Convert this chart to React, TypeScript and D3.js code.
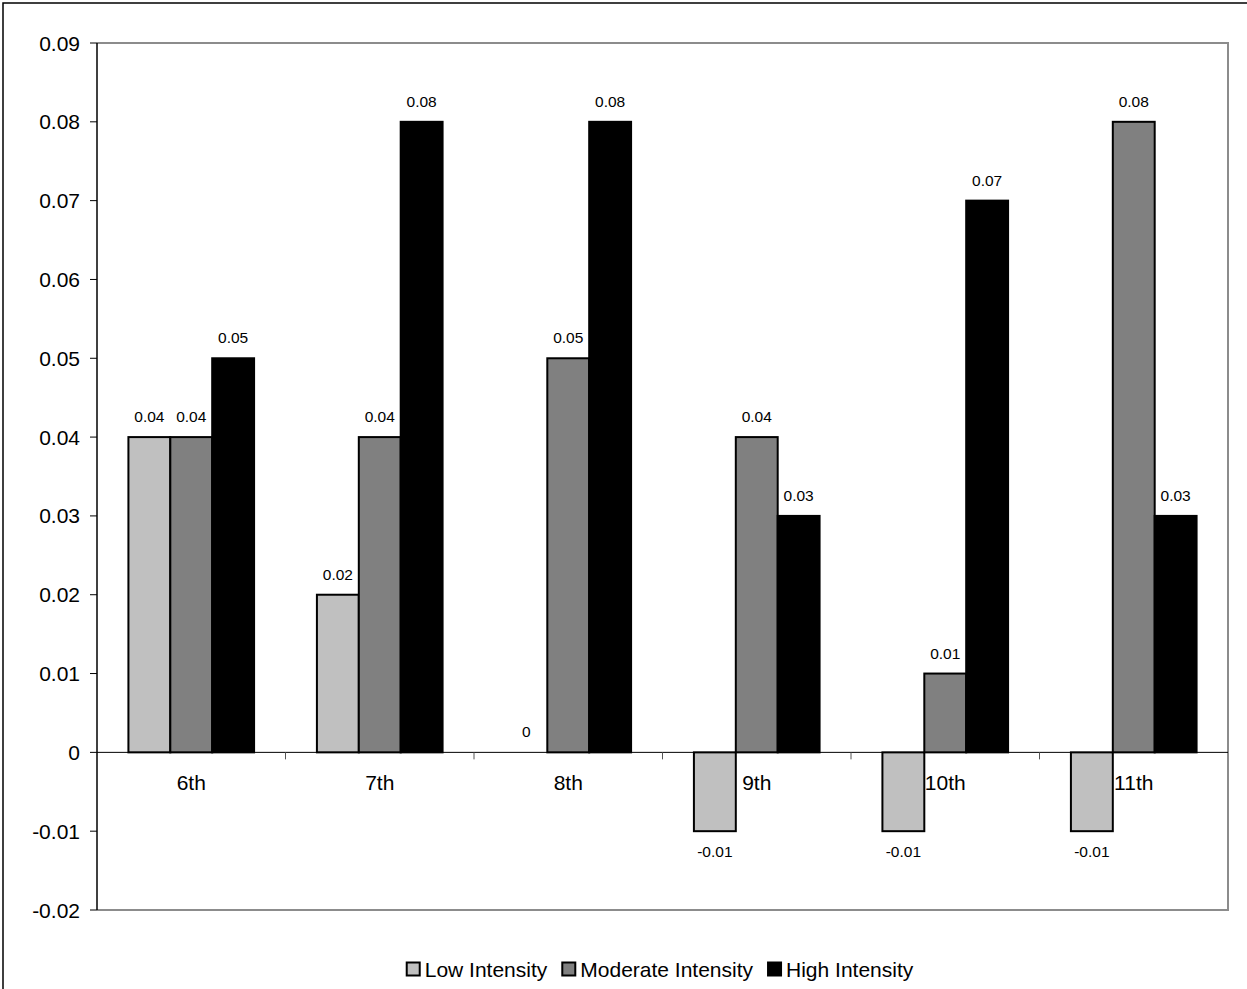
import React from "react";
import * as d3 from "d3";

const categories = ["6th", "7th", "8th", "9th", "10th", "11th"];
const seriesNames = ["Low Intensity", "Moderate Intensity", "High Intensity"];
const lowValues = [0.04, 0.02, 0, -0.01, -0.01, -0.01];
const moderateValues = [0.04, 0.04, 0.05, 0.04, 0.01, 0.08];
const highValues = [0.05, 0.08, 0.08, 0.03, 0.07, 0.03];
const yTicks = [0.09, 0.08, 0.07, 0.06, 0.05, 0.04, 0.03, 0.02, 0.01, 0, -0.01, -0.02];
const colors = ["#C0C0C0", "#808080", "#000000"];

const W = 1247;
const H = 989;
const plot = { left: 97, top: 43, right: 1228, bottom: 910 };
const FONT = "'Liberation Sans', Arial, sans-serif";

function measure(text: string, size: number): number {
  if (typeof document === "undefined") return text.length * size * 0.5;
  const c = document.createElement("canvas").getContext("2d");
  if (!c) return text.length * size * 0.5;
  c.font = `${size}px 'Liberation Sans', Arial, sans-serif`;
  return c.measureText(text).width;
}

export default function App() {
  const series = [lowValues, moderateValues, highValues];
  const y = d3.scaleLinear().domain([-0.02, 0.09]).range([plot.bottom, plot.top]);
  const x0 = d3.scaleBand<string>().domain(categories).range([plot.left, plot.right]).paddingInner(0).paddingOuter(0);
  const groupW = x0.bandwidth();
  const barW = groupW / 4.5;
  const x1 = d3.scaleBand<number>().domain([0, 1, 2]).range([groupW * 0.75 / 4.5, groupW * 0.75 / 4.5 + 3 * barW]);
  const fmt = (v: number) => (v === 0 ? "0" : d3.format(".2f")(v).replace("\u2212", "-"));
  const y0 = y(0);

  // legend layout
  const legendSize = 21;
  const sq = 13;
  const sqGap = 5;
  const itemGap = 15;
  const items = seriesNames.map((n) => ({ n, w: sq + sqGap + measure(n, legendSize) }));
  const totalW = d3.sum(items, (d) => d.w) + itemGap * (items.length - 1);
  let lx = 660 - totalW / 2;
  const legendY = 969;
  const legendItems = items.map((it, i) => {
    const pos = lx;
    lx += it.w + itemGap;
    return { ...it, x: pos, i };
  });

  return (
    <svg width={W} height={H} style={{ display: "block", position: "absolute", left: 0, top: 0 }} fontFamily={FONT}>
      <rect x={0} y={0} width={W} height={H} fill="#fff" />
      <rect x={3} y={3} width={W + 20} height={H + 20} fill="none" stroke="#000" strokeWidth={1.5} />
      {/* plot frame */}
      <path
        d={`M${plot.left},${plot.top}H${plot.right}V${plot.bottom}H${plot.left}`}
        fill="none"
        stroke="#8c8c8c"
        strokeWidth={2}
      />
      {/* bars */}
      {categories.map((c, ci) =>
        series.map((vals, si) => {
          const v = vals[ci];
          if (v === 0) return null;
          const bx = (x0(c) as number) + (x1(si) as number);
          const top = Math.min(y(v), y0);
          const h = Math.abs(y(v) - y0);
          return (
            <rect key={`${c}-${si}`} x={bx} y={top} width={barW} height={h} fill={colors[si]} stroke="#000" strokeWidth={2} />
          );
        })
      )}
      {/* zero line */}
      <line x1={plot.left} x2={plot.right} y1={y0} y2={y0} stroke="#000" strokeWidth={1} />
      {/* category ticks */}
      {categories.slice(1).map((c) => (
        <line key={c} x1={x0(c) as number} x2={x0(c) as number} y1={y0} y2={y0 + 7} stroke="#555" strokeWidth={1} />
      ))}
      {/* y axis */}
      <line x1={plot.left} x2={plot.left} y1={plot.top} y2={plot.bottom} stroke="#000" strokeWidth={1.5} />
      {yTicks.map((t) => (
        <g key={t}>
          <line x1={plot.left - 7} x2={plot.left} y1={y(t)} y2={y(t)} stroke="#000" strokeWidth={1} />
          <text x={80} y={y(t)} dy="0.36em" textAnchor="end" fontSize={21} fill="#000">
            {fmt(t)}
          </text>
        </g>
      ))}
      {/* category labels */}
      {categories.map((c) => (
        <text key={c} x={(x0(c) as number) + groupW / 2} y={y0 + 38} textAnchor="middle" fontSize={21} fill="#000">
          {c}
        </text>
      ))}
      {/* data labels */}
      {categories.map((c, ci) =>
        series.map((vals, si) => {
          const v = vals[ci];
          const cx = (x0(c) as number) + (x1(si) as number) + barW / 2;
          const ly = v >= 0 ? y(v) - 15 : y(v) + 26;
          return (
            <text key={`l-${c}-${si}`} x={cx} y={ly} textAnchor="middle" fontSize={15.5} fill="#000">
              {fmt(v)}
            </text>
          );
        })
      )}
      {/* legend */}
      {legendItems.map((it) => (
        <g key={it.n}>
          <rect x={it.x} y={legendY - sq / 2} width={sq} height={sq} fill={colors[it.i]} stroke="#000" strokeWidth={2} />
          <text x={it.x + sq + sqGap} y={legendY} dy="0.36em" fontSize={legendSize} fill="#000">
            {it.n}
          </text>
        </g>
      ))}
    </svg>
  );
}
